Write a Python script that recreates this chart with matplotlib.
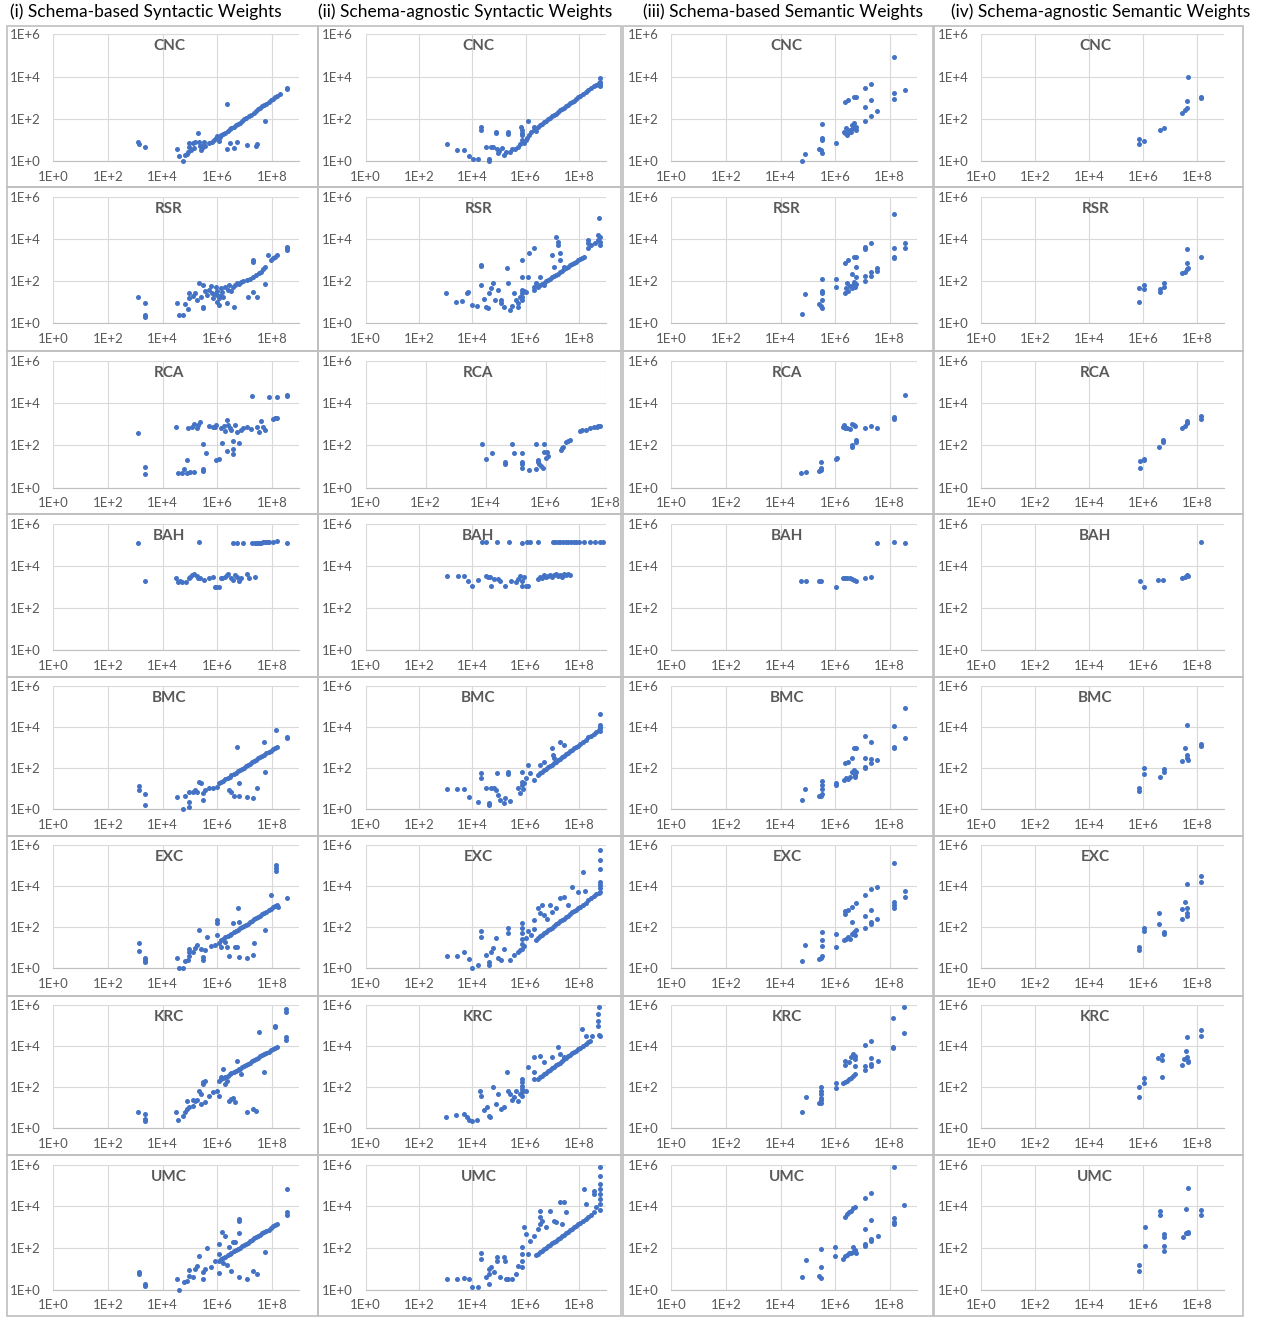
import numpy as np
import matplotlib.pyplot as plt
from matplotlib.patches import Rectangle
from matplotlib.ticker import NullLocator

plt.rcParams['font.family'] = ['Lato', 'DejaVu Sans']

headers = ['(i) Schema-based Syntactic Weights', '(ii) Schema-agnostic Syntactic Weights',
           '(iii) Schema-based Semantic Weights', '(iv) Schema-agnostic Semantic Weights']
datasets = ['CNC', 'RSR', 'RCA', 'BAH', 'BMC', 'EXC', 'KRC', 'UMC']
x_ticks = [1e0, 1e2, 1e4, 1e6, 1e8]
x_labels = ['1E+0', '1E+2', '1E+4', '1E+6', '1E+8']
y_ticks = [1e0, 1e2, 1e4, 1e6]
y_labels = ['1E+0', '1E+2', '1E+4', '1E+6']

# points, as (log10 x, log10 y)
cnc_i = [(3.10,0.90),(3.12,0.80),(3.35,0.66),(4.51,0.57),(4.59,0.25),(4.76,0.00),(4.81,0.30),(4.88,0.36),
         (4.93,0.46),(4.96,0.68),(4.96,0.88),(5.05,0.55),(5.10,0.85),(5.15,0.62),(5.20,0.90),(5.30,1.35),
         (5.32,0.92),(5.36,0.72),(5.40,0.55),(5.45,0.62),(5.48,0.78),(5.50,0.92),(5.55,0.70),(5.70,0.86),
         (5.80,0.92),(5.88,1.02),(5.95,1.10),(6.00,1.20),(6.05,0.98),(6.10,1.15),(6.15,1.25),(6.22,1.30),
         (6.30,1.36),(6.38,1.45),(6.45,1.52),(6.52,1.55),(6.60,1.62),(6.68,1.70),(6.75,1.76),(6.82,1.82),
         (6.90,1.90),(6.98,1.98),(7.05,2.05),(7.15,2.12),(7.25,2.20),(7.33,2.30),(7.40,2.36),(7.48,2.45),
         (7.56,2.52),(7.65,2.60),(7.72,2.66),(7.80,2.73),(7.90,2.82),(7.98,2.90),(8.05,2.96),(8.12,3.02),
         (8.20,3.10),(8.28,3.18),(8.55,3.40),(8.56,3.46),(6.35,2.72),(6.35,0.60),(6.45,0.85),(6.60,0.65),
         (6.72,0.92),(7.10,0.75),(7.40,0.70),(7.45,0.80),(7.75,1.90)]
cnc_ii = [(3.04,0.82),(3.43,0.54),(3.68,0.54),(3.88,0.27),(4.03,0.13),(4.21,0.13),(4.33,1.64),(4.33,1.50),
          (4.50,0.69),(4.63,0.13),(4.63,0.02),(4.70,0.69),(4.78,0.69),(4.89,1.40),(4.89,1.35),(4.93,0.57),
          (4.96,0.38),(5.02,0.50),(5.10,0.62),(5.19,0.30),(5.25,0.42),(5.34,1.40),(5.34,1.30),(5.41,0.46),
          (5.50,0.60),(5.60,0.58),(5.71,0.69),(5.78,0.80),(5.83,1.64),(5.86,1.50),(5.86,1.36),(5.86,1.22),
          (5.86,1.02),(5.90,0.90),(5.94,0.85),(6.02,1.00),(6.05,1.12),(6.09,1.92),(6.12,1.25),(6.20,1.40),
          (6.32,1.48),(6.32,1.62),(6.38,1.45),(6.47,1.64),(6.55,1.70),(6.62,1.76),(6.70,1.85),(6.78,1.92),
          (6.85,1.98),(6.92,2.04),(7.00,2.12),(7.08,2.20),(7.15,2.25),(7.22,2.32),(7.30,2.40),(7.38,2.46),
          (7.45,2.54),(7.52,2.60),(7.60,2.68),(7.68,2.74),(7.75,2.80),(7.82,2.86),(7.90,2.94),(7.98,3.02),
          (8.05,3.08),(8.15,3.16),(8.25,3.26),(8.35,3.36),(8.45,3.44),(8.55,3.54),(8.65,3.62),(8.75,3.70),
          (8.80,3.76),(8.80,3.92),(8.80,3.62),(8.80,3.55),(8.78,3.66)]
cnc_iii = [(4.77,0.00),(4.91,0.35),(5.41,0.57),(5.48,0.54),(5.51,0.41),(5.53,1.00),(5.53,1.09),(5.53,1.75),
           (6.05,0.85),(6.31,1.40),(6.35,1.32),(6.38,1.56),(6.42,1.25),(6.46,1.32),(6.50,1.45),(6.53,1.48),
           (6.58,1.38),(6.61,1.72),(6.65,1.55),(6.68,1.80),(6.72,1.62),(6.76,1.64),(6.76,1.50),(6.35,2.82),
           (6.46,2.90),(6.68,3.06),(6.76,3.02),(7.10,3.48),(7.10,1.92),(7.10,2.58),(7.31,3.65),(7.31,2.90),
           (7.31,2.14),(7.55,2.38),(8.15,4.91),(8.15,3.21),(8.15,2.93),(8.56,3.37)]
cnc_iv = [(5.85,1.04),(5.85,0.80),(6.05,0.96),(6.62,1.48),(6.77,1.59),(7.47,2.30),(7.58,2.43),(7.62,2.87),
          (7.65,2.50),(7.68,3.97),(8.16,3.06),(8.16,2.98)]

rsr_i = [(3.09,1.26),(3.34,0.98),(3.34,0.39),(3.34,0.32),(4.51,0.98),(4.59,0.39),(4.74,0.39),(4.81,0.92),
         (4.93,0.66),(4.96,1.42),(4.96,1.18),(5.10,1.30),(5.18,1.45),(5.25,1.10),(5.32,1.93),(5.40,1.25),
         (5.47,1.82),(5.47,0.79),(5.47,0.71),(5.54,1.55),(5.62,1.35),(5.76,1.77),(5.83,1.20),(5.90,1.40),
         (5.99,1.03),(5.99,1.55),(6.06,0.87),(6.10,1.30),(6.18,1.50),(6.22,1.25),(6.28,1.74),(6.35,0.98),
         (6.40,1.60),(6.43,1.82),(6.50,1.55),(6.57,1.74),(6.62,0.79),(6.65,1.80),(6.72,1.90),(6.80,1.85),
         (6.87,1.97),(6.95,2.00),(7.09,2.05),(7.12,1.26),(7.20,2.12),(7.31,2.21),(7.31,1.50),(7.31,3.00),
         (7.31,2.92),(7.40,2.30),(7.46,1.26),(7.53,2.37),(7.60,2.45),(7.68,2.56),(7.75,2.69),(7.75,1.86),
         (7.87,3.24),(7.97,3.00),(8.05,3.08),(8.12,3.16),(8.19,3.24),(8.56,3.63),(8.56,3.55),(8.56,3.47),
         (5.70,1.60),(5.80,1.45),(5.95,1.70),(6.00,1.35),(6.05,1.20),(6.15,1.65)]
rsr_ii = [(3.01,1.42),(3.38,1.03),(3.61,1.07),(3.79,1.42),(3.83,1.50),(3.98,0.87),(4.18,0.82),(4.33,2.76),
          (4.33,2.72),(4.33,1.82),(4.44,1.14),(4.51,0.79),(4.59,0.71),(4.63,1.42),(4.69,1.66),(4.78,1.93),
          (4.84,1.10),(4.96,1.58),(5.08,1.10),(5.08,0.95),(5.19,0.79),(5.29,2.61),(5.34,1.93),(5.41,0.63),
          (5.48,0.80),(5.56,1.42),(5.63,1.10),(5.71,0.95),(5.71,0.79),(5.78,1.26),(5.86,3.00),(5.86,2.21),
          (5.86,1.58),(5.86,1.42),(5.86,1.26),(5.86,1.10),(5.94,1.55),(6.02,1.48),(6.09,2.21),(6.14,3.35),
          (6.32,3.55),(6.32,1.58),(6.32,1.74),(6.40,1.93),(6.54,2.21),(6.69,1.82),(6.99,3.24),(7.07,2.69),
          (7.14,4.11),(7.22,3.87),(7.22,3.71),(7.29,3.32),(7.29,3.00),(7.44,2.69),(6.47,1.74),(6.55,1.80),
          (6.62,1.86),(6.70,1.92),(6.78,2.00),(6.85,2.05),(6.92,2.12),(7.00,2.18),(7.08,2.25),(7.15,2.30),
          (7.22,2.36),(7.30,2.42),(7.38,2.50),(7.45,2.55),(7.52,2.62),(7.60,2.68),(7.68,2.74),(7.75,2.80),
          (7.82,2.86),(7.90,2.92),(7.98,2.98),(8.05,3.04),(8.12,3.10),(8.20,3.16),(8.35,3.79),(8.35,3.55),
          (8.35,3.95),(8.45,3.70),(8.60,3.80),(8.72,3.95),(8.72,4.19),(8.75,4.98),(8.80,4.10),(8.80,3.85),
          (8.78,3.70)]
rsr_iii = [(4.77,0.43),(4.91,1.39),(5.41,0.91),(5.48,0.82),(5.51,1.45),(5.51,1.54),(5.51,1.10),(5.53,0.71),
           (5.53,2.08),(6.05,2.08),(6.05,1.70),(6.35,1.45),(6.38,1.65),(6.43,1.89),(6.46,1.55),(6.53,1.75),
           (6.61,1.65),(6.65,1.80),(6.68,1.97),(6.72,1.70),(6.76,1.85),(6.76,2.20),(6.35,2.87),(6.46,3.02),
           (6.61,2.36),(6.68,3.12),(6.76,3.15),(6.76,2.68),(7.10,3.62),(7.10,3.50),(7.10,2.24),(7.10,2.02),
           (7.31,3.81),(7.31,2.45),(7.31,2.24),(7.55,2.60),(7.55,2.49),(8.15,5.20),(8.15,3.55),(8.15,3.15),
           (8.15,3.08),(8.56,3.82),(8.56,3.55)]
rsr_iv = [(5.85,1.00),(5.85,1.69),(6.05,1.82),(6.05,1.61),(6.62,1.61),(6.62,1.50),(6.77,1.90),(6.77,1.74),
          (7.47,2.40),(7.58,2.45),(7.62,2.56),(7.65,2.84),(7.68,2.64),(7.65,3.51),(8.16,3.13)]

rca_i = [(3.10,2.60),(3.35,0.99),(3.35,0.63),(4.50,2.85),(4.57,0.68),(4.72,0.68),(4.79,0.88),(4.91,1.31),
         (4.91,0.68),(4.94,2.83),(5.01,0.76),(5.09,2.88),(5.16,3.00),(5.16,0.72),(5.24,2.83),(5.31,2.96),
         (5.38,3.09),(5.46,2.05),(5.46,0.88),(5.46,0.80),(5.60,1.62),(5.68,2.91),(5.83,2.88),(5.97,2.96),
         (5.97,1.31),(6.05,1.35),(6.12,2.83),(6.19,2.13),(6.34,3.20),(6.34,1.73),(6.40,2.96),(6.49,2.72),
         (6.56,2.20),(6.56,1.83),(6.59,1.57),(6.64,2.96),(6.71,2.65),(6.78,2.09),(6.86,2.72),(6.93,2.80),
         (7.08,2.88),(7.23,2.77),(7.27,4.33),(7.45,2.85),(7.52,2.61),(7.60,3.15),(7.67,2.85),(7.74,2.72),
         (7.89,4.30),(8.04,3.24),(8.12,3.28),(8.19,3.31),(8.19,4.30),(8.55,4.38),(8.55,4.33),(6.25,2.90),
         (6.45,2.80),(6.30,2.70),(5.90,2.85)]
rca_ii = [(3.87,2.06),(4.00,1.35),(4.20,1.62),(4.64,1.20),(4.64,1.13),(4.87,2.06),(4.94,1.62),(5.21,1.62),
          (5.21,1.20),(5.21,1.10),(5.23,0.94),(5.45,0.83),(5.68,2.06),(5.68,0.88),(5.74,1.31),(5.74,1.20),
          (5.78,1.10),(5.85,1.04),(5.90,0.94),(5.95,2.06),(5.95,1.70),(6.00,1.39),(6.04,1.70),(6.08,1.50),
          (6.52,1.78),(6.55,1.86),(6.58,1.94),(6.68,2.17),(6.75,2.20),(6.82,2.25),(7.15,2.69),(7.22,2.72),
          (7.36,2.72),(7.49,2.83),(7.62,2.88),(7.70,2.89),(7.76,2.90),(7.83,2.91)]
rca_iii = [(4.76,0.71),(4.94,0.72),(5.42,0.79),(5.47,0.83),(5.50,0.94),(5.50,1.23),(6.04,1.34),(6.07,1.39),
           (6.30,2.88),(6.37,2.80),(6.45,2.83),(6.53,2.77),(6.34,2.96),(6.60,2.99),(6.68,2.96),(6.71,2.91),
           (6.60,1.94),(6.60,2.02),(6.75,2.14),(6.75,2.25),(7.10,2.80),(7.31,2.91),(7.55,2.80),(8.16,3.24),
           (8.16,3.35),(8.56,4.38)]
rca_iv = [(5.88,0.94),(5.88,1.26),(6.03,1.35),(6.03,1.31),(6.60,1.94),(6.76,2.14),(6.76,2.25),(7.45,2.83),
          (7.56,2.93),(7.63,3.04),(7.63,3.15),(8.14,3.24),(8.14,3.39)]

bah_i = [(3.10,5.08),(3.35,3.29),(5.34,5.16),(4.50,3.41),(4.57,3.25),(4.65,3.30),(4.72,3.22),(4.85,3.25),
         (4.97,3.41),(5.01,3.49),(5.09,3.57),(5.16,3.60),(5.24,3.52),(5.31,3.41),(5.38,3.44),(5.53,3.33),
         (5.68,3.41),(5.83,3.49),(5.90,3.02),(5.97,3.02),(6.05,3.02),(6.12,3.44),(6.19,3.41),(6.27,3.49),
         (6.34,3.57),(6.41,3.60),(6.49,3.41),(6.56,3.33),(6.64,3.57),(6.71,3.49),(6.78,3.29),(6.86,3.41),
         (7.08,3.60),(7.15,3.41),(7.38,3.46),(6.56,5.08),(6.71,5.08),(6.93,5.08),(7.27,5.08),(7.38,5.08),
         (7.45,5.08),(7.52,5.11),(7.60,5.11),(7.67,5.13),(7.74,5.13),(7.82,5.13),(7.89,5.16),(8.04,5.16),
         (8.19,5.19),(8.55,5.08)]
bah_ii = [(3.05,3.54),(3.45,3.51),(3.71,3.54),(3.83,3.30),(3.98,3.03),(4.21,3.33),(4.52,3.54),(4.60,3.50),
          (4.67,3.46),(4.70,3.03),(4.82,3.38),(4.97,3.38),(5.05,3.30),(5.24,3.03),(5.45,3.30),(5.65,3.25),
          (5.72,3.38),(5.80,3.54),(5.88,3.30),(5.95,3.46),(5.88,3.03),(6.03,3.03),(6.10,3.03),(6.48,3.38),
          (6.55,3.50),(6.62,3.44),(6.70,3.55),(6.78,3.46),(6.85,3.52),(6.92,3.58),(7.00,3.50),(7.08,3.56),
          (7.15,3.62),(7.22,3.52),(7.30,3.58),(7.38,3.50),(7.45,3.60),(7.52,3.55),(7.60,3.62),(7.68,3.58),
          (4.36,5.13),(4.52,5.16),(4.94,5.16),(5.39,5.16),(5.88,5.10),(6.06,5.13),(6.18,5.13),(6.45,5.13),
          (7.02,5.16),(7.10,5.13),(7.20,5.13),(7.30,5.13),(7.40,5.13),(7.50,5.13),(7.60,5.15),(7.70,5.16),
          (7.80,5.16),(7.90,5.16),(8.00,5.16),(8.20,5.16),(8.42,5.13),(8.60,5.13),(8.80,5.13),(8.90,5.13)]
bah_iii = [(4.76,3.29),(4.94,3.29),(5.42,3.29),(5.50,3.29),(6.04,3.02),(6.30,3.44),(6.37,3.45),(6.45,3.44),
           (6.53,3.42),(6.60,3.40),(6.68,3.35),(6.75,3.30),(7.10,3.44),(7.31,3.49),(7.55,5.08),(8.16,5.16),
           (8.56,5.08)]
bah_iv = [(5.88,3.29),(6.03,3.02),(6.56,3.33),(6.74,3.33),(7.45,3.44),(7.56,3.50),(7.63,3.57),(7.69,3.54),
          (8.14,5.16)]

bmc_i = [(3.12,1.13),(3.12,0.94),(3.34,0.73),(3.34,0.21),(4.51,0.58),(4.76,0.00),(4.81,0.66),(4.96,0.86),
         (4.96,0.13),(4.96,0.37),(5.10,0.86),(5.18,0.94),(5.25,0.82),(5.32,1.35),(5.40,1.26),(5.47,0.78),
         (5.47,0.45),(5.54,0.94),(5.69,1.02),(5.84,1.02),(5.99,1.10),(6.06,1.26),(6.15,1.32),(6.22,1.40),
         (6.30,1.46),(6.38,1.52),(6.45,1.58),(6.52,1.66),(6.60,1.72),(6.68,1.78),(6.75,1.84),(6.82,1.90),
         (6.90,1.96),(6.98,2.02),(7.05,2.10),(7.12,2.16),(7.20,2.22),(7.28,2.30),(7.35,2.34),(7.42,2.40),
         (7.50,2.48),(7.58,2.54),(7.65,2.60),(7.72,2.66),(7.80,2.72),(7.88,2.80),(7.95,2.86),(8.05,2.94),
         (8.12,3.00),(8.19,3.05),(8.56,3.53),(8.56,3.45),(6.72,3.05),(7.72,3.29),(8.16,3.86),(7.75,1.83),
         (7.46,1.05),(7.31,0.57),(7.09,0.62),(6.79,0.66),(6.60,0.66),(6.43,0.94),(6.50,0.86),(6.79,1.26)]
bmc_ii = [(3.04,0.97),(3.43,0.97),(3.68,0.97),(3.88,0.62),(4.21,0.37),(4.33,1.78),(4.33,1.54),(4.51,1.02),
          (4.63,0.29),(4.63,0.21),(4.69,1.02),(4.81,1.02),(4.89,0.94),(4.93,1.75),(4.96,0.70),(5.04,0.45),
          (5.19,0.29),(5.23,0.54),(5.34,1.83),(5.34,1.70),(5.41,0.41),(5.71,1.02),(5.78,0.80),(5.86,1.83),
          (5.86,1.35),(5.86,1.18),(5.90,1.00),(5.94,1.26),(6.02,1.51),(6.09,2.16),(6.17,1.75),(6.32,1.43),
          (6.54,2.16),(6.69,2.32),(6.99,2.97),(7.04,2.64),(7.07,2.48),(7.29,3.29),(7.44,3.13),(6.47,1.67),
          (6.55,1.75),(6.62,1.82),(6.70,1.90),(6.78,1.97),(6.85,2.04),(6.92,2.12),(7.00,2.18),(7.08,2.26),
          (7.15,2.32),(7.22,2.40),(7.30,2.46),(7.38,2.54),(7.45,2.60),(7.52,2.68),(7.60,2.76),(7.68,2.82),
          (7.75,2.90),(7.82,2.96),(7.90,3.04),(7.98,3.10),(8.05,3.18),(8.15,3.28),(8.25,3.38),(8.35,3.53),
          (8.45,3.58),(8.55,3.68),(8.65,3.78),(8.75,3.88),(8.80,3.94),(8.80,4.10),(8.80,4.02),(8.80,4.62),
          (8.78,3.80)]
bmc_iii = [(4.77,0.45),(4.91,0.99),(5.41,0.66),(5.48,0.66),(5.51,0.73),(5.51,0.99),(5.51,1.18),(5.51,1.38),
           (6.05,1.18),(6.05,1.26),(6.31,1.43),(6.38,1.51),(6.46,1.46),(6.53,1.59),(6.61,1.80),(6.68,1.91),
           (6.68,1.75),(6.71,1.67),(6.76,1.83),(6.72,1.55),(6.35,2.24),(6.46,2.29),(6.61,2.48),(6.68,2.97),
           (6.76,3.00),(7.10,3.57),(7.10,2.51),(7.10,2.07),(7.10,1.99),(7.31,3.26),(7.31,2.45),(7.31,2.24),
           (7.55,2.40),(8.15,4.07),(8.15,3.05),(8.15,2.97),(8.56,4.91),(8.56,3.48)]
bmc_iv = [(5.85,1.05),(5.85,0.89),(6.05,1.99),(6.05,1.70),(6.62,1.59),(6.77,1.80),(6.77,1.96),(7.47,2.35),
          (7.58,3.00),(7.62,2.64),(7.65,2.48),(7.68,2.40),(7.65,4.10),(8.16,3.16),(8.16,3.10)]

exc_i = [(3.12,1.22),(3.12,0.84),(3.34,0.52),(3.34,0.41),(3.34,0.29),(4.51,0.52),(4.59,0.00),(4.76,0.00),
         (4.81,0.36),(4.93,0.41),(4.96,0.94),(4.96,0.78),(4.96,0.62),(5.10,0.81),(5.18,1.00),(5.25,1.13),
         (5.32,1.86),(5.40,0.94),(5.47,0.57),(5.47,0.41),(5.54,0.89),(5.62,1.54),(5.76,1.10),(5.90,1.15),
         (5.99,2.35),(5.99,2.19),(5.99,1.62),(6.06,1.22),(6.13,1.05),(6.28,1.30),(6.35,1.02),(6.43,0.62),
         (6.57,2.19),(6.65,1.05),(6.72,1.05),(6.75,2.95),(6.79,2.24),(6.79,0.57),(7.09,0.52),(7.34,1.22),
         (7.31,0.65),(7.75,1.86),(7.97,3.57),(8.16,5.02),(8.16,4.86),(8.16,4.73),(8.19,3.08),(8.22,3.00),
         (8.56,3.40),(6.15,1.38),(6.22,1.42),(6.30,1.50),(6.38,1.56),(6.45,1.62),(6.52,1.68),(6.60,1.75),
         (6.68,1.82),(6.75,1.88),(6.82,1.94),(6.90,2.00),(6.98,2.06),(7.05,2.12),(7.12,2.18),(7.20,2.25),
         (7.28,2.32),(7.35,2.38),(7.42,2.44),(7.50,2.50),(7.58,2.56),(7.65,2.62),(7.72,2.68),(7.80,2.74),
         (7.88,2.82),(7.95,2.88),(8.05,2.96),(8.12,3.02)]
exc_ii = [(3.04,0.60),(3.43,0.60),(3.68,0.81),(3.88,0.44),(3.98,0.00),(4.21,0.16),(4.33,1.82),(4.33,1.54),
          (4.51,0.65),(4.63,0.32),(4.63,0.16),(4.69,0.81),(4.78,1.00),(4.89,1.46),(4.96,0.49),(5.08,0.40),
          (5.19,0.94),(5.34,1.98),(5.34,1.70),(5.41,0.40),(5.56,0.65),(5.71,0.81),(5.80,0.90),(5.86,2.19),
          (5.86,1.95),(5.86,1.70),(5.86,1.45),(5.86,1.20),(5.86,0.95),(5.94,1.10),(6.02,1.46),(6.10,1.80),
          (6.20,1.60),(6.32,2.35),(6.32,1.90),(6.47,2.92),(6.55,2.70),(6.62,3.08),(6.69,2.59),(6.80,2.40),
          (6.92,3.08),(6.99,2.76),(7.14,2.92),(7.29,3.40),(7.44,3.48),(7.59,3.08),(7.74,3.97),(7.97,3.73),
          (8.15,4.67),(8.24,3.76),(8.80,5.75),(8.80,5.27),(8.80,4.83),(8.80,4.21),(8.80,4.05),(8.80,3.89),
          (6.40,1.40),(6.47,1.46),(6.55,1.55),(6.62,1.62),(6.70,1.70),(6.78,1.78),(6.85,1.84),(6.92,1.92),
          (7.00,1.98),(7.08,2.06),(7.15,2.14),(7.22,2.20),(7.30,2.28),(7.38,2.36),(7.45,2.42),(7.52,2.50),
          (7.60,2.56),(7.68,2.64),(7.75,2.72),(7.82,2.78),(7.90,2.86),(7.98,2.94),(8.05,3.00),(8.15,3.10),
          (8.25,3.20),(8.35,3.30),(8.45,3.40),(8.55,3.50),(8.65,3.60),(8.75,3.68),(8.80,3.73)]
exc_iii = [(4.77,0.37),(4.91,1.13),(5.41,0.45),(5.48,0.49),(5.51,0.62),(5.51,1.10),(5.51,1.38),(5.51,1.75),
           (6.05,1.05),(6.05,1.65),(6.31,1.38),(6.38,1.45),(6.46,1.54),(6.53,1.42),(6.61,1.65),(6.68,1.78),
           (6.71,1.62),(6.76,1.86),(6.61,2.24),(6.35,2.63),(6.35,2.79),(6.46,2.84),(6.61,3.00),(6.76,3.16),
           (7.10,2.56),(7.10,3.57),(7.10,1.94),(7.31,3.86),(7.31,2.84),(7.31,2.24),(7.31,2.14),(7.55,3.97),
           (7.55,2.38),(8.15,5.14),(8.15,3.21),(8.15,3.08),(8.15,2.95),(8.56,3.76),(8.56,3.48)]
exc_iv = [(5.85,1.05),(5.85,0.89),(6.05,1.98),(6.05,1.82),(6.59,2.69),(6.59,2.16),(6.77,1.78),(6.77,1.65),
          (7.47,2.88),(7.47,2.38),(7.58,3.24),(7.62,2.92),(7.65,2.67),(7.65,2.56),(7.65,4.08),(8.16,4.51),
          (8.16,4.18)]

krc_i = [(3.09,0.81),(3.34,0.70),(3.34,0.45),(3.34,0.34),(4.49,0.78),(4.56,0.41),(4.74,0.62),(4.81,0.78),
         (4.88,0.94),(4.96,1.02),(5.10,1.10),(4.88,1.35),(5.10,1.38),(5.18,1.35),(5.25,1.38),(5.32,1.83),
         (5.40,1.67),(5.47,2.16),(5.47,2.24),(5.54,2.29),(5.40,1.18),(5.54,1.26),(5.69,1.59),(5.84,1.75),
         (5.99,1.83),(6.06,1.59),(6.13,2.48),(6.21,2.88),(6.28,2.16),(6.35,2.29),(6.43,1.35),(6.50,1.42),
         (6.57,1.48),(6.65,1.26),(6.72,3.29),(6.79,2.88),(6.87,2.65),(7.09,0.78),(7.31,0.94),(7.43,0.83),
         (7.53,4.67),(7.72,2.72),(8.12,4.99),(8.12,4.91),(8.51,5.80),(8.51,5.64),(8.51,4.42),(8.51,4.29),
         (6.06,2.32),(6.15,2.38),(6.22,2.44),(6.30,2.50),(6.38,2.55),(6.45,2.62),(6.52,2.68),(6.60,2.74),
         (6.68,2.80),(6.75,2.85),(6.82,2.90),(6.90,2.96),(6.98,3.02),(7.05,3.08),(7.12,3.14),(7.20,3.20),
         (7.28,3.26),(7.35,3.32),(7.42,3.38),(7.50,3.44),(7.58,3.50),(7.65,3.56),(7.72,3.61),(7.80,3.67),
         (7.88,3.73),(7.95,3.79),(8.05,3.86),(8.12,3.92),(8.19,3.97)]
krc_ii = [(3.01,0.57),(3.38,0.66),(3.68,0.70),(3.79,0.57),(3.88,0.41),(3.98,0.34),(4.18,0.41),(4.29,1.83),
          (4.33,1.59),(4.44,0.89),(4.54,1.05),(4.63,0.62),(4.66,0.54),(4.78,1.99),(4.89,1.18),(4.96,1.67),
          (5.08,0.94),(5.19,1.02),(5.29,2.72),(5.34,1.83),(5.41,1.67),(5.48,1.38),(5.56,1.51),(5.63,1.83),
          (5.71,1.35),(5.78,1.67),(5.86,2.40),(5.86,2.24),(5.86,2.07),(5.86,1.91),(5.86,1.75),(5.86,1.59),
          (6.02,1.83),(6.09,2.97),(6.32,3.45),(6.32,2.72),(6.32,2.40),(6.54,3.53),(6.69,3.21),(6.99,3.45),
          (7.22,3.94),(7.29,3.62),(7.44,3.45),(8.12,4.83),(8.27,4.51),(8.50,4.51),(8.72,4.99),(8.72,5.24),
          (8.72,5.56),(8.75,5.88),(8.75,4.55),(8.80,4.51),(6.47,2.40),(6.55,2.48),(6.62,2.55),(6.70,2.62),
          (6.78,2.70),(6.85,2.77),(6.92,2.84),(7.00,2.92),(7.08,3.00),(7.15,3.06),(7.22,3.13),(7.30,3.20),
          (7.38,3.28),(7.45,3.35),(7.52,3.42),(7.60,3.50),(7.68,3.57),(7.75,3.64),(7.82,3.70),(7.90,3.78),
          (7.98,3.85),(8.05,3.92),(8.15,4.02),(8.25,4.10),(8.35,4.20),(8.42,4.26)]
krc_iii = [(4.77,0.78),(4.92,1.54),(5.41,1.22),(5.48,1.25),(5.50,1.67),(5.50,1.83),(5.50,1.99),(5.50,1.38),
           (5.50,1.48),(6.05,2.19),(6.05,1.96),(6.28,2.19),(6.36,2.24),(6.43,2.30),(6.51,2.40),(6.58,2.45),
           (6.66,2.56),(6.73,2.64),(6.36,3.10),(6.36,3.29),(6.51,3.21),(6.58,3.45),(6.66,3.61),(6.73,3.53),
           (6.73,3.37),(6.73,3.05),(7.11,2.84),(7.11,3.05),(7.11,4.07),(7.30,4.23),(7.30,3.42),(7.30,3.13),
           (7.30,3.05),(7.56,3.29),(8.13,5.36),(8.13,3.97),(8.13,3.91),(8.54,5.88),(8.54,4.62)]
krc_iv = [(5.86,1.99),(5.86,1.54),(6.03,2.45),(6.03,2.19),(6.56,3.40),(6.72,3.57),(6.72,3.32),(6.72,2.51),
          (7.45,3.10),(7.51,3.37),(7.59,3.74),(7.63,3.45),(7.66,3.29),(7.69,3.21),(7.63,4.42),(8.15,4.78),
          (8.15,4.51)]

umc_i = [(3.12,0.83),(3.12,0.75),(3.34,0.27),(3.34,0.16),(4.51,0.51),(4.59,0.00),(4.78,0.35),(4.88,0.40),
         (4.96,0.94),(4.96,0.67),(5.10,0.62),(5.18,0.99),(5.25,1.15),(5.32,1.63),(5.47,0.83),(5.47,0.51),
         (5.54,0.99),(5.62,2.00),(5.76,1.10),(5.91,1.39),(6.06,1.71),(6.06,2.19),(6.06,0.78),(6.18,2.75),
         (6.28,2.59),(6.43,2.03),(6.50,0.88),(6.57,2.27),(6.65,2.30),(6.79,3.39),(6.79,3.28),(6.79,2.70),
         (6.79,0.62),(7.09,0.51),(7.31,0.91),(7.46,0.75),(7.75,1.82),(8.56,4.83),(8.56,3.71),(8.56,3.60),
         (6.35,1.20),(6.20,1.30),(6.06,1.39),(6.15,1.46),(6.22,1.52),(6.30,1.58),(6.38,1.65),(6.45,1.72),
         (6.52,1.78),(6.60,1.84),(6.68,1.90),(6.75,1.96),(6.82,2.02),(6.90,2.08),(6.98,2.14),(7.05,2.20),
         (7.12,2.26),(7.20,2.34),(7.28,2.40),(7.35,2.46),(7.42,2.52),(7.50,2.58),(7.58,2.64),(7.65,2.70),
         (7.72,2.76),(7.80,2.82),(7.88,2.88),(7.95,2.95),(8.05,3.04),(8.12,3.10),(8.19,3.15)]
umc_ii = [(3.04,0.51),(3.43,0.51),(3.68,0.54),(3.88,0.51),(3.98,0.14),(4.21,0.14),(4.33,1.74),(4.33,1.47),
          (4.51,0.59),(4.63,0.99),(4.63,0.75),(4.63,0.27),(4.69,1.07),(4.81,0.83),(4.93,1.55),(4.93,1.39),
          (5.04,0.59),(5.19,1.55),(5.23,1.39),(5.26,0.51),(5.34,0.51),(5.49,0.51),(5.64,0.75),(5.71,1.15),
          (5.86,2.03),(5.86,1.71),(5.86,1.39),(5.86,1.07),(5.94,2.99),(6.02,2.67),(6.09,1.71),(6.17,2.35),
          (6.32,2.59),(6.47,2.91),(6.54,3.79),(6.54,3.47),(6.54,3.15),(6.62,3.31),(6.77,2.99),(6.92,3.79),
          (7.07,3.31),(7.14,3.23),(7.29,4.19),(7.44,4.19),(7.37,3.15),(7.52,3.71),(8.20,4.83),(8.27,4.11),
          (8.57,4.75),(8.57,4.59),(8.65,3.95),(8.80,5.87),(8.80,5.47),(8.80,5.07),(8.80,4.83),(8.80,4.59),
          (8.80,4.35),(8.80,4.11),(8.80,3.82),(6.40,1.65),(6.47,1.71),(6.55,1.80),(6.62,1.86),(6.70,1.94),
          (6.78,2.00),(6.85,2.08),(6.92,2.14),(7.00,2.22),(7.08,2.28),(7.15,2.36),(7.22,2.42),(7.30,2.50),
          (7.38,2.56),(7.45,2.64),(7.52,2.70),(7.60,2.78),(7.68,2.86),(7.75,2.92),(7.82,3.00),(7.90,3.06),
          (7.98,3.14),(8.05,3.20),(8.15,3.30),(8.25,3.40),(8.35,3.50),(8.45,3.60),(8.57,3.71)]
umc_iii = [(4.77,0.61),(4.92,1.43),(5.41,0.67),(5.50,0.56),(5.50,1.08),(5.50,1.94),(6.00,2.04),(6.00,1.62),
           (6.28,1.46),(6.36,1.60),(6.43,1.66),(6.51,1.74),(6.58,1.74),(6.66,1.82),(6.73,1.90),(6.76,1.78),
           (6.66,2.07),(6.36,3.47),(6.43,3.63),(6.51,3.72),(6.58,3.80),(6.66,3.90),(6.73,3.98),(7.11,4.38),
           (7.11,2.93),(7.11,2.20),(7.11,2.10),(7.33,4.62),(7.33,3.34),(7.33,2.42),(7.33,2.36),(7.56,2.58),
           (8.16,5.89),(8.16,3.42),(8.16,3.26),(8.16,3.15),(8.54,4.06)]
umc_iv = [(5.86,1.19),(5.86,0.92),(6.06,2.99),(6.06,2.12),(6.63,3.79),(6.63,3.58),(6.78,2.68),(6.78,2.52),
          (6.78,2.10),(6.78,1.86),(7.48,2.52),(7.59,3.85),(7.59,2.70),(7.62,2.72),(7.66,2.79),(7.69,2.74),
          (7.66,4.90),(8.17,3.82),(8.17,3.58)]

panels = [[cnc_i, cnc_ii, cnc_iii, cnc_iv],
          [rsr_i, rsr_ii, rsr_iii, rsr_iv],
          [rca_i, rca_ii, rca_iii, rca_iv],
          [bah_i, bah_ii, bah_iii, bah_iv],
          [bmc_i, bmc_ii, bmc_iii, bmc_iv],
          [exc_i, exc_ii, exc_iii, exc_iv],
          [krc_i, krc_ii, krc_iii, krc_iv],
          [umc_i, umc_ii, umc_iii, umc_iv]]

W, H = 1265, 1318
fig = plt.figure(figsize=(W / 100, H / 100), dpi=100)

# layout in pixels
col_plot = [(53.4, 299.2), (365.5, 605.6), (671.4, 917.0), (981.3, 1223.7)]
row_plot = [(34.3, 161.3), (196.7, 323.3), (360.7, 487.7), (524.0, 650.0),
            (686.0, 809.3), (845.0, 968.3), (1005.0, 1128.3), (1164.7, 1289.7)]
col_box = [(7, 318), (318, 621), (623, 933), (934, 1243)]
row_box = [26, 187, 351, 514, 677, 836, 996, 1155, 1316]
head_x = [146, 465, 783, 1101]

for c, h in enumerate(headers):
    fig.text(head_x[c] / W, 1 - 12 / H, h, ha='center', va='center', fontsize=12.5, color='#000000')

for r in range(8):
    for c in range(4):
        bx0, bx1 = col_box[c]
        fig.add_artist(Rectangle((bx0 / W, 1 - row_box[r + 1] / H), (bx1 - bx0) / W,
                                 (row_box[r + 1] - row_box[r]) / H, transform=fig.transFigure,
                                 fill=False, ec='#BFBFBF', lw=1.2))
        x0, x1 = col_plot[c]
        yt, yb = row_plot[r]
        ax = fig.add_axes([x0 / W, 1 - yb / H, (x1 - x0) / W, (yb - yt) / H])
        ax.set_xscale('log')
        ax.set_yscale('log')
        xmax = 1e8 if (r == 2 and c == 1) else 1e9
        ax.set_xlim(1, xmax)
        ax.set_ylim(1, 1e6)
        ax.set_xticks(x_ticks, labels=x_labels)
        ax.set_yticks(y_ticks, labels=y_labels)
        ax.xaxis.set_minor_locator(NullLocator())
        ax.yaxis.set_minor_locator(NullLocator())
        ax.grid(True, color='#D9D9D9', lw=0.8)
        ax.set_axisbelow(True)
        for s in ['top', 'right', 'left']:
            ax.spines[s].set_visible(False)
        ax.spines['bottom'].set_color('#BFBFBF')
        ax.tick_params(length=0, labelsize=9.5, colors='#595959')
        ax.tick_params(axis='y', pad=9)
        ax.tick_params(axis='x', pad=7)

        pts = np.array(panels[r][c])
        ax.scatter(10 ** pts[:, 0], 10 ** pts[:, 1], s=13, c='#4472C4', lw=0, clip_on=False, zorder=3)
        ax.text(0.47, 0.905, datasets[r], transform=ax.transAxes, ha='center', va='center',
                fontsize=11, fontweight='bold', color='#595959')

fig.savefig('out.png', dpi=100)
